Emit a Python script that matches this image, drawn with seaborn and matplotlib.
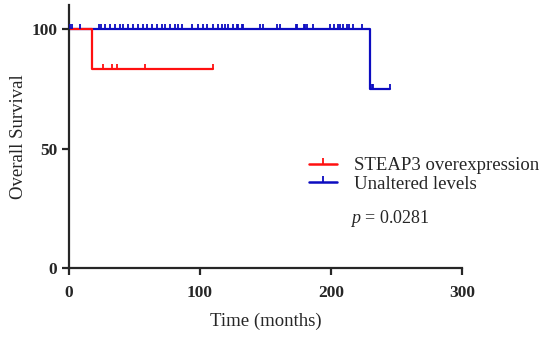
import numpy as np
import pandas as pd
import matplotlib.pyplot as plt
from matplotlib.path import Path
from matplotlib.lines import Line2D
import seaborn as sns

# Kaplan-Meier steps (time in months, survival in %)
red_times = [0, 17.5, 110]
red_surv = [100, 83.3, 83.3]
red_censor = [26, 33, 37, 58, 110]

blue_times = [0, 229.8, 245]
blue_surv = [100, 75, 75]
blue_censor_hi = [1, 2, 8.4, 23, 24.5, 27.5, 31.3, 35, 39, 41, 45, 49, 52.7, 56.5,
                  59.5, 63.4, 67, 71, 73, 77, 81, 83, 86, 94, 98.5, 102, 105, 110,
                  114, 117, 119, 121, 125, 128, 129, 132, 133, 146, 148, 159, 161,
                  173, 174, 179, 180, 182, 186, 199, 202, 205, 207, 209, 212, 214,
                  217, 224]
blue_censor_lo = [231, 232, 245]

groups = ["STEAP3 overexpression", "Unaltered levels"]
colours = {"STEAP3 overexpression": "#ff1010", "Unaltered levels": "#0c0cc0"}

steps = pd.DataFrame({
    "time": red_times + blue_times,
    "surv": red_surv + blue_surv,
    "group": [groups[0]] * len(red_times) + [groups[1]] * len(blue_times),
})
censor = pd.DataFrame({
    "time": red_censor + blue_censor_hi + blue_censor_lo,
    "surv": [83.3] * len(red_censor) + [100] * len(blue_censor_hi) + [75] * len(blue_censor_lo),
    "group": [groups[0]] * len(red_censor) + [groups[1]] * (len(blue_censor_hi) + len(blue_censor_lo)),
})

sns.set_theme(style="ticks")
plt.rcParams["font.family"] = ["Liberation Serif", "DejaVu Serif"]
plt.rcParams["mathtext.fontset"] = "custom"
plt.rcParams["mathtext.rm"] = "Liberation Serif"
plt.rcParams["mathtext.it"] = "Liberation Serif:italic"

# upward tick used for censored observations
tick = Path([(0, 0), (0, 1)], [Path.MOVETO, Path.LINETO])

fig = plt.figure(figsize=(5.5, 3.39), dpi=100)
ax = fig.add_axes([0.1255, 0.2094, 0.7145, 0.7756])

for g in groups[::-1]:
    d = steps[steps["group"] == g]
    sns.lineplot(data=d, x="time", y="surv", drawstyle="steps-post", estimator=None,
                 color=colours[g], linewidth=1.6, ax=ax, legend=False)
    c = censor[censor["group"] == g]
    sns.scatterplot(data=c, x="time", y="surv", marker=tick, s=50, color=colours[g],
                    edgecolor=colours[g], linewidth=1.3, ax=ax, legend=False, zorder=3)

ax.set_xlim(0, 300)
ax.set_ylim(0, 110)
ax.set_xticks([0, 100, 200, 300])
ax.set_yticks([0, 50, 100])
sns.despine(ax=ax)
for s in ["left", "bottom"]:
    ax.spines[s].set_linewidth(1.6)
ax.tick_params(width=1.6, length=5, labelsize=12.5)
ax.tick_params(axis="x", pad=7)
for lab in ax.get_xticklabels() + ax.get_yticklabels():
    lab.set_fontweight("bold")
ax.set_xlabel("Time (months)", fontsize=13.5, labelpad=9)
ax.set_ylabel("Overall Survival", fontsize=13.5, labelpad=3)

handles = [Line2D([0], [0], color=colours[g], linewidth=1.8, marker=tick, markersize=8,
                  markeredgewidth=1.3) for g in groups]
fig.legend(handles, groups, loc="upper left", bbox_to_anchor=(0.548, 0.558),
           frameon=False, fontsize=13.5, handlelength=1.5, handletextpad=0.9,
           labelspacing=0.05, borderaxespad=0)

fig.text(0.709, 0.355, "$\\it{p}$ = 0.0281", ha="center", va="center", fontsize=13)

plt.savefig("out.png", dpi=100)
